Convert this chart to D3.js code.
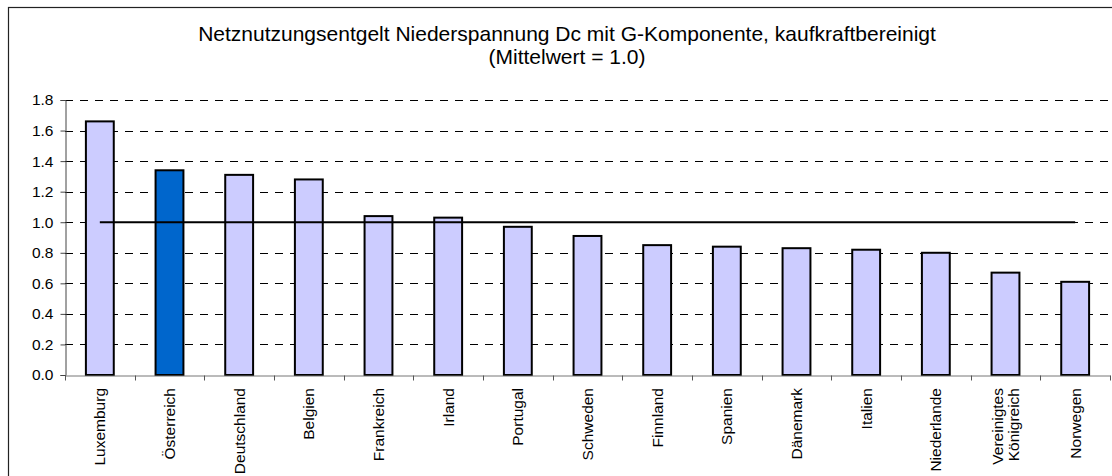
<!DOCTYPE html>
<html>
<head>
<meta charset="utf-8">
<script src="https://cdn.jsdelivr.net/npm/d3@7"></script>
<style>
  body { margin: 0; background: #fff; }
  svg { display: block; font-family: Arial, "Liberation Sans", sans-serif; }
</style>
</head>
<body>
<svg id="chart" width="1112" height="476"></svg>
<script>
// data
var laender = ["Luxemburg", "Österreich", "Deutschland", "Belgien", "Frankreich", "Irland", "Portugal",
  "Schweden", "Finnland", "Spanien", "Dänemark", "Italien", "Niederlande", "Vereinigtes Königreich", "Norwegen"];
var werte = [1.66, 1.34, 1.31, 1.28, 1.04, 1.03, 0.97, 0.91, 0.85, 0.84, 0.83, 0.82, 0.80, 0.67, 0.61];
var mittelwert = 1.0;
var hervorgehoben = "Österreich";
var yTicks = [0, 0.2, 0.4, 0.6, 0.8, 1.0, 1.2, 1.4, 1.6, 1.8];
var titelZeilen = ["Netznutzungsentgelt Niederspannung Dc mit G-Komponente, kaufkraftbereinigt", "(Mittelwert = 1.0)"];

var svg = d3.select("#chart");
var pLeft = 65, pRight = 1110, pTop = 100, pBottom = 375;

// outer frame (runs off the right/bottom edge like the original)
svg.append("rect")
  .attr("x", 8.5).attr("y", 7.5)
  .attr("width", 1120).attr("height", 480)
  .attr("fill", "none").attr("stroke", "#222").attr("stroke-width", 1.2);

var x = d3.scaleBand().domain(laender).range([pLeft, pRight]).paddingInner(0).paddingOuter(0);
var y = d3.scaleLinear().domain([0, 1.8]).range([pBottom, pTop]);

// title
svg.selectAll(".titel")
  .data(titelZeilen)
  .enter().append("text")
  .attr("class", "titel")
  .attr("x", 567)
  .attr("y", function(d, i) { return 41 + i * 23; })
  .attr("text-anchor", "middle")
  .attr("font-size", 21)
  .attr("fill", "#000")
  .text(function(d) { return d; });

// dashed gridlines
svg.append("g")
  .selectAll("line")
  .data(yTicks.filter(function(d) { return d > 0; }))
  .enter().append("line")
  .attr("x1", pLeft).attr("x2", pRight)
  .attr("y1", function(d) { return Math.round(y(d)) + 0.5; })
  .attr("y2", function(d) { return Math.round(y(d)) + 0.5; })
  .attr("stroke", "#000")
  .attr("stroke-width", 1)
  .attr("stroke-dasharray", "8,7");

// y axis
var yAxis = d3.axisLeft(y).tickValues(yTicks).tickFormat(d3.format(".1f")).tickSize(5).tickPadding(7);
var gy = svg.append("g").attr("transform", "translate(" + (pLeft + 0.5) + ",0)").call(yAxis);
gy.select(".domain").attr("stroke", "#444");
gy.selectAll(".tick line").attr("stroke", "#444");
gy.selectAll(".tick text").attr("font-size", 15.5).attr("fill", "#000")
  .attr("font-family", "Arial, 'Liberation Sans', sans-serif");

// bars
var bw = x.bandwidth() * 0.4;
svg.append("g")
  .selectAll("rect")
  .data(werte)
  .enter().append("rect")
  .attr("x", function(d, i) { return x(laender[i]) + (x.bandwidth() - bw) / 2; })
  .attr("y", function(d) { return y(d); })
  .attr("width", bw)
  .attr("height", function(d) { return y(0) - y(d); })
  .attr("fill", function(d, i) { return laender[i] === hervorgehoben ? "#0066CC" : "#CCCCFF"; })
  .attr("stroke", "#000")
  .attr("stroke-width", 2);

// x axis
var xAxis = d3.axisBottom(x).tickSize(0).tickFormat("");
var gx = svg.append("g").attr("transform", "translate(0," + (pBottom + 0.5) + ")").call(xAxis);
gx.select(".domain").attr("stroke", "#777");
gx.selectAll(".tick").remove();
var grenzen = laender.map(function(d) { return x(d); }).concat([pRight]);
gx.selectAll(".grenze")
  .data(grenzen)
  .enter().append("line")
  .attr("class", "grenze")
  .attr("x1", function(d) { return Math.round(d) + 0.5; })
  .attr("x2", function(d) { return Math.round(d) + 0.5; })
  .attr("y1", 0).attr("y2", 5)
  .attr("stroke", "#555");

// mean line from first to last bar centre
svg.append("line")
  .attr("x1", x(laender[0]) + x.bandwidth() / 2)
  .attr("x2", x(laender[laender.length - 1]) + x.bandwidth() / 2)
  .attr("y1", y(mittelwert)).attr("y2", y(mittelwert))
  .attr("stroke", "#000").attr("stroke-width", 2);

// rotated category labels
var labels = svg.append("g").selectAll("g")
  .data(laender)
  .enter().append("g")
  .attr("transform", function(d) {
    return "translate(" + (x(d) + x.bandwidth() / 2) + ",388) rotate(-90)";
  });
labels.each(function(d) {
  var zeilen = d === "Vereinigtes Königreich" ? ["Vereinigtes", "Königreich"] : [d];
  var t = d3.select(this).append("text")
    .attr("text-anchor", "end")
    .attr("font-size", 15.5)
    .attr("fill", "#000");
  zeilen.forEach(function(z, i) {
    t.append("tspan")
      .attr("x", 0)
      .attr("y", (i - (zeilen.length - 1) / 2) * 16)
      .attr("dy", "0.35em")
      .text(z);
  });
});
</script>
</body>
</html>
